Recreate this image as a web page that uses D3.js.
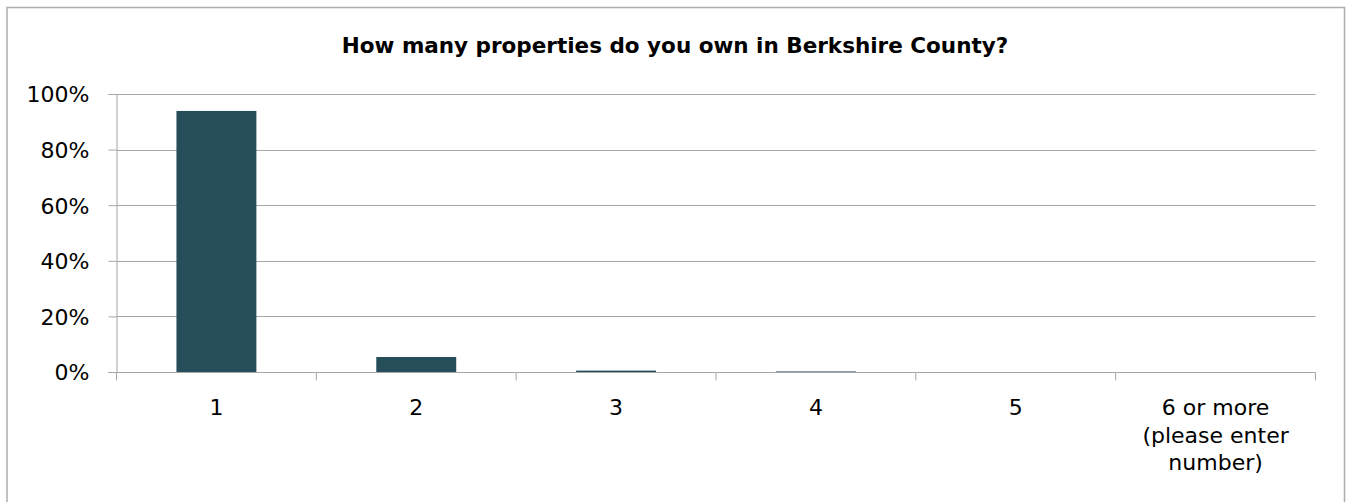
<!DOCTYPE html>
<html>
<head>
<meta charset="utf-8">
<script src="https://cdn.jsdelivr.net/npm/d3@7"></script>
<style>
  html, body { margin: 0; padding: 0; background: #fff; }
  svg { display: block; }
  text { font-family: "DejaVu Sans", Verdana, sans-serif; fill: #000; }
</style>
</head>
<body>
<svg id="chart" width="1346" height="502"></svg>
<script>
// Survey answers: number of properties owned
const categories = ["1", "2", "3", "4", "5", "6 or more (please enter number)"];
const categoryLines = [["1"], ["2"], ["3"], ["4"], ["5"], ["6 or more", "(please enter", "number)"]];
const shares = [0.939, 0.054, 0.005, 0.002, 0, 0];
const yTicks = [0, 0.2, 0.4, 0.6, 0.8, 1.0];
const titleText = "How many properties do you own in Berkshire County?";

const svg = d3.select("#chart");
const plot = { left: 116.5, right: 1315.5, top: 94, bottom: 372 };
const gridColor = "#a6a6a6";
const barColor = "#254d5a";
const labelSize = "22px";

// outer chart frame (bottom edge runs off the canvas)
svg.append("rect")
  .attr("x", 7).attr("y", 7.5)
  .attr("width", 1337.5).attr("height", 560)
  .attr("fill", "#fff")
  .attr("stroke", "#adadad").attr("stroke-width", 1.5);

const x = d3.scaleBand().domain(categories).range([plot.left, plot.right]).paddingInner(0).paddingOuter(0);
const y = d3.scaleLinear().domain([0, 1]).range([plot.bottom, plot.top]);

// horizontal gridlines
svg.append("g")
  .selectAll("line")
  .data(yTicks.filter(d => d > 0))
  .join("line")
  .attr("x1", plot.left).attr("x2", plot.right)
  .attr("y1", d => Math.round(y(d)) + 0.5).attr("y2", d => Math.round(y(d)) + 0.5)
  .attr("stroke", gridColor).attr("stroke-width", 1);

// bars: Excel-style gap width of 150%
const barW = x.bandwidth() / 2.5;
svg.append("g")
  .selectAll("rect")
  .data(categories.map((c, i) => ({ c, v: shares[i] })))
  .join("rect")
  .attr("x", d => x(d.c) + (x.bandwidth() - barW) / 2)
  .attr("y", d => y(d.v))
  .attr("width", barW)
  .attr("height", d => y(0) - y(d.v))
  .attr("fill", barColor);

// y axis
const yAxis = svg.append("g")
  .attr("transform", `translate(${plot.left},0)`)
  .call(d3.axisLeft(y).tickValues(yTicks).tickFormat(d3.format(".0%")).tickSize(8).tickPadding(19));
yAxis.select(".domain").attr("stroke", gridColor);
yAxis.selectAll(".tick line").attr("stroke", gridColor);
yAxis.selectAll(".tick text")
  .style("font-family", "'DejaVu Sans', Verdana, sans-serif")
  .style("font-size", labelSize).attr("fill", "#000").attr("dy", "0.36em");

// x axis: ticks at category boundaries
const xAxisG = svg.append("g").attr("transform", `translate(0,${plot.bottom + 0.5})`);
xAxisG.append("line")
  .attr("x1", plot.left - 8).attr("x2", plot.right)
  .attr("stroke", gridColor);
const bounds = categories.map(c => x(c)).concat([x(categories[categories.length - 1]) + x.bandwidth()]);
xAxisG.selectAll("line.tk")
  .data(bounds)
  .join("line").attr("class", "tk")
  .attr("x1", d => d).attr("x2", d => d)
  .attr("y1", 0).attr("y2", 8)
  .attr("stroke", gridColor);

// category labels, wrapped onto lines
const labels = svg.append("g")
  .selectAll("text")
  .data(categories.map((c, i) => ({ c, lines: categoryLines[i] })))
  .join("text")
  .attr("text-anchor", "middle")
  .style("font-size", labelSize)
  .attr("x", d => x(d.c) + x.bandwidth() / 2)
  .attr("y", 415);
labels.selectAll("tspan")
  .data(d => d.lines.map(l => ({ l, cx: x(d.c) + x.bandwidth() / 2 })))
  .join("tspan")
  .attr("x", d => d.cx)
  .attr("dy", (d, i) => i === 0 ? 0 : 27.5)
  .text(d => d.l);

// title
svg.append("text")
  .attr("x", 675).attr("y", 53)
  .attr("text-anchor", "middle")
  .style("font-size", "21.5px").style("font-weight", "bold")
  .text(titleText);
</script>
</body>
</html>
